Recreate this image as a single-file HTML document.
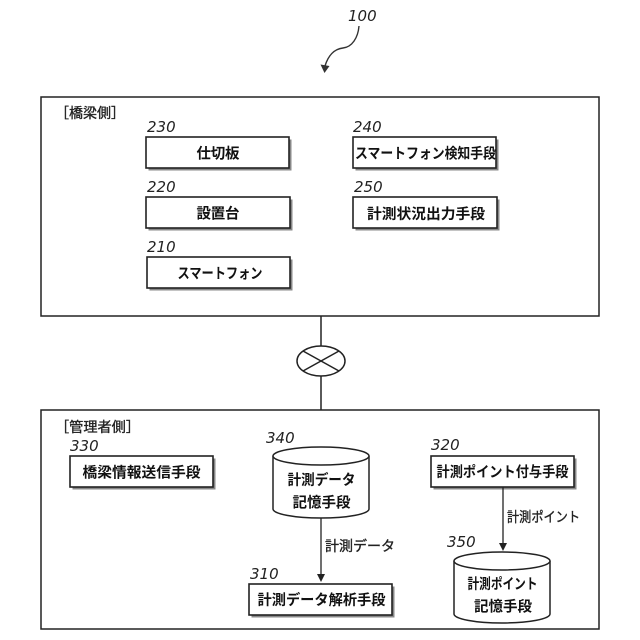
<!DOCTYPE html>
<html><head><meta charset="utf-8">
<style>
html,body{margin:0;padding:0;background:#fff;width:640px;height:640px;overflow:hidden}
svg{display:block}
.j{font-family:"Liberation Sans","Noto Sans CJK JP",sans-serif;font-size:14.5px;font-weight:700;fill:#111;text-anchor:middle}
.l{font-family:"Liberation Sans","Noto Sans CJK JP",sans-serif;font-size:14px;font-weight:400;fill:#222;stroke:#222;stroke-width:.35}
.n{font-family:"DejaVu Sans",sans-serif;font-style:italic;font-size:15px;fill:#222}
.b{fill:#fff;stroke:#222;stroke-width:1.6}
.s{fill:#888}
</style></head><body>
<svg width="640" height="640" viewBox="0 0 640 640" xmlns="http://www.w3.org/2000/svg">
<rect x="41" y="97" width="558" height="219" fill="#fff" stroke="#222" stroke-width="1.5"/>
<rect x="41" y="410" width="558" height="219" fill="#fff" stroke="#222" stroke-width="1.5"/>
<line x1="321" y1="316" x2="321" y2="410" stroke="#222" stroke-width="1.5"/>
<ellipse cx="321" cy="361" rx="24" ry="15" fill="#fff" stroke="#222" stroke-width="1.5"/>
<line x1="303" y1="351" x2="339" y2="371" stroke="#222" stroke-width="1.5"/>
<line x1="339" y1="351" x2="303" y2="371" stroke="#222" stroke-width="1.5"/>

<text class="n" x="348" y="21">100</text>
<path d="M359 26C358 38 352 47 343 48C334 49 328 56 325 66" fill="none" stroke="#333" stroke-width="1.4"/>
<path d="M320.500 64.500L329.500 66L324.500 73Z" fill="#333"/>

<text class="l" x="55" y="118" textLength="70" lengthAdjust="spacingAndGlyphs">［橋梁側］</text>
<text class="l" x="55" y="432" textLength="85" lengthAdjust="spacingAndGlyphs">［管理者側］</text>

<!-- boxes -->
<rect class="s" x="148.500" y="139.500" width="143" height="31"/><rect class="b" x="146" y="137" width="143" height="31"/>
<rect class="s" x="148.500" y="199.500" width="144" height="31"/><rect class="b" x="146" y="197" width="144" height="31"/>
<rect class="s" x="149.500" y="259.500" width="143" height="31"/><rect class="b" x="147" y="257" width="143" height="31"/>
<rect class="s" x="355.500" y="139.500" width="143" height="31"/><rect class="b" x="353" y="137" width="143" height="31"/>
<rect class="s" x="355.500" y="199.500" width="144" height="31"/><rect class="b" x="353" y="197" width="144" height="31"/>
<rect class="s" x="72.500" y="458.500" width="143" height="31"/><rect class="b" x="70" y="456" width="143" height="31"/>
<rect class="s" x="433.500" y="458.500" width="143" height="31"/><rect class="b" x="431" y="456" width="143" height="31"/>
<rect class="s" x="251.500" y="586.500" width="143" height="31"/><rect class="b" x="249" y="584" width="143" height="31"/>

<text class="n" x="147" y="132">230</text>
<text class="n" x="147" y="192">220</text>
<text class="n" x="147" y="252">210</text>
<text class="n" x="353" y="132">240</text>
<text class="n" x="354" y="192">250</text>
<text class="n" x="70" y="451">330</text>
<text class="n" x="266" y="443">340</text>
<text class="n" x="431" y="450">320</text>
<text class="n" x="250" y="579">310</text>
<text class="n" x="447" y="547">350</text>

<text class="j" x="218" y="158.500" textLength="43">仕切板</text>
<text class="j" x="218" y="218.500" textLength="43">設置台</text>
<text class="j" x="220" y="278.500" textLength="85" lengthAdjust="spacingAndGlyphs">スマートフォン</text>
<text class="j" x="425.500" y="158.500" textLength="141" lengthAdjust="spacingAndGlyphs">スマートフォン検知手段</text>
<text class="j" x="426" y="219" textLength="118" lengthAdjust="spacingAndGlyphs">計測状況出力手段</text>
<text class="j" x="141.500" y="477.500" textLength="118" lengthAdjust="spacingAndGlyphs">橋梁情報送信手段</text>
<text class="j" x="502.500" y="477" textLength="132" lengthAdjust="spacingAndGlyphs">計測ポイント付与手段</text>
<text class="j" x="321.500" y="605" textLength="128" lengthAdjust="spacingAndGlyphs">計測データ解析手段</text>

<!-- cylinders -->
<path d="M273 456V509A48 9 0 0 0 369 509V456" fill="#fff" stroke="#222" stroke-width="1.5"/>
<ellipse cx="321" cy="456" rx="48" ry="9" fill="#fff" stroke="#222" stroke-width="1.5"/>
<text class="j" x="321.500" y="485" textLength="68" lengthAdjust="spacingAndGlyphs">計測データ</text>
<text class="j" x="321.500" y="507.500" textLength="58" lengthAdjust="spacingAndGlyphs">記憶手段</text>

<path d="M454 561V614A48 9 0 0 0 550 614V561" fill="#fff" stroke="#222" stroke-width="1.5"/>
<ellipse cx="502" cy="561" rx="48" ry="9" fill="#fff" stroke="#222" stroke-width="1.5"/>
<text class="j" x="502.500" y="589" textLength="70" lengthAdjust="spacingAndGlyphs">計測ポイント</text>
<text class="j" x="503" y="611.500" textLength="58" lengthAdjust="spacingAndGlyphs">記憶手段</text>

<!-- arrows -->
<line x1="321" y1="518" x2="321" y2="576" stroke="#222" stroke-width="1.3"/>
<path d="M317 574H325L321 582Z" fill="#222"/>
<line x1="503" y1="487" x2="503" y2="545" stroke="#222" stroke-width="1.3"/>
<path d="M499 543H507L503 551Z" fill="#222"/>
<text class="l" x="325" y="551" textLength="70" lengthAdjust="spacingAndGlyphs">計測データ</text>
<text class="l" x="507" y="522" textLength="73" lengthAdjust="spacingAndGlyphs">計測ポイント</text>
</svg>
</body></html>
